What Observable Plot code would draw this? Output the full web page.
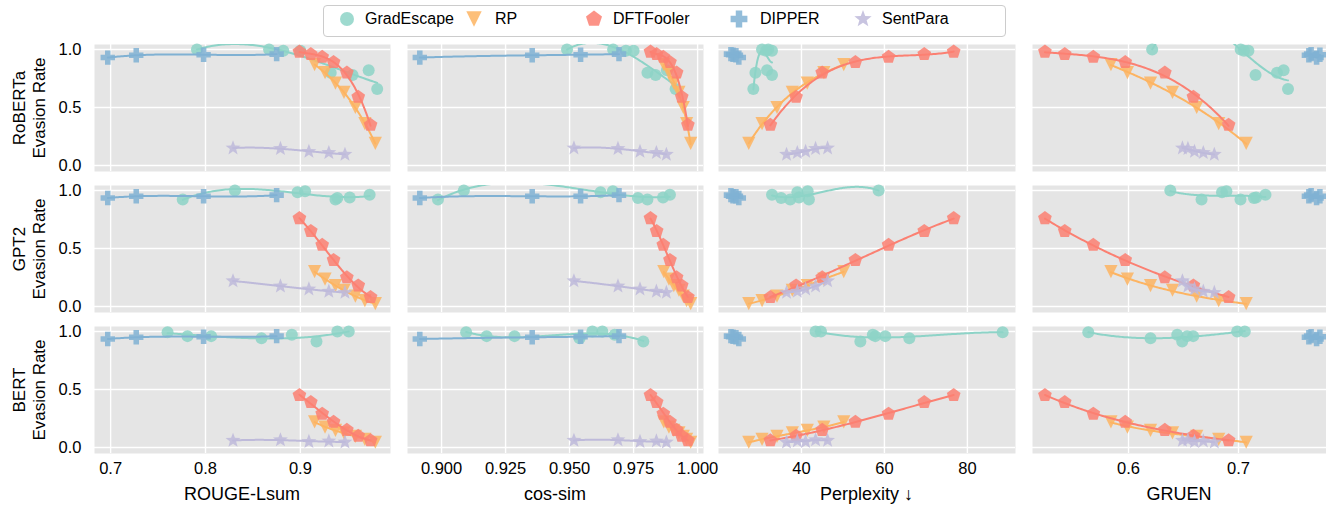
<!DOCTYPE html>
<html><head><meta charset="utf-8">
<script src="https://cdn.jsdelivr.net/npm/d3@7"></script>
<script src="https://cdn.jsdelivr.net/npm/@observablehq/plot@0.6"></script>
<style>
body{margin:0;background:#fff;font-family:"Liberation Sans",Arial,sans-serif;}
#root{position:relative;width:1326px;height:506px;overflow:hidden;background:#fff;}
.abs{position:absolute;}
.rowlab{position:absolute;width:127px;text-align:center;font-size:17px;line-height:20px;transform:rotate(-90deg);transform-origin:center center;color:#000;}
.xtitle{position:absolute;text-align:center;font-size:18px;color:#000;white-space:nowrap;}
.legtext{position:absolute;font-size:16px;color:#000;white-space:nowrap;}
</style></head><body><div id="root"></div>
<script>
// ---------- DATA ----------
const detectors = ["RoBERTa", "GPT2", "BERT"];
const metricLabels = ["ROUGE-Lsum", "cos-sim", "Perplexity ↓", "GRUEN"];
const metricTicks = [[0.7, 0.8, 0.9], [0.9, 0.925, 0.95, 0.975, 1.0], [40, 60, 80], [0.6, 0.7]];
const metricTickFormats = [".1f", ".3f", "d", ".1f"];
const yTicks = [0, 0.5, 1.0];
const attackNames = ["GradEscape", "RP", "DFTFooler", "DIPPER", "SentPara"];
const attackColors = ["#8dd3c7", "#fdb462", "#fb8072", "#80b1d3", "#bebada"];

// DFTFooler
const dftRouge = [0.899, 0.911, 0.923, 0.935, 0.949, 0.961, 0.974];
const dftCos = [0.9816, 0.984, 0.9866, 0.9892, 0.9918, 0.9938, 0.9962];
const dftPpl = [76.7, 69.6, 61.0, 53.0, 45.0, 38.7, 32.5];
const dftGruen = [0.524, 0.542, 0.568, 0.597, 0.633, 0.659, 0.691];
const dftRoBERTa = [0.98, 0.96, 0.935, 0.89, 0.80, 0.59, 0.35];
const dftGPT2 = [0.76, 0.65, 0.53, 0.40, 0.25, 0.18, 0.08];
const dftBERT = [0.45, 0.39, 0.29, 0.22, 0.15, 0.10, 0.06];

// RP
const rpRouge = [0.915, 0.926, 0.937, 0.946, 0.958, 0.968, 0.979];
const rpCos = [0.9868, 0.9888, 0.9907, 0.9927, 0.9944, 0.9957, 0.9973];
const rpPpl = [50.2, 45.4, 41.4, 37.8, 34.1, 30.5, 27.3];
const rpGruen = [0.584, 0.599, 0.62, 0.64, 0.662, 0.682, 0.707];
const rpRoBERTa = [0.87, 0.80, 0.71, 0.63, 0.50, 0.36, 0.19];
const rpGPT2 = [0.30, 0.235, 0.18, 0.14, 0.09, 0.05, 0.025];
const rpBERT = [0.22, 0.175, 0.147, 0.125, 0.095, 0.07, 0.045];

// DIPPER
const dipRouge = [0.697, 0.727, 0.798, 0.875];
const dipCos = [0.8915, 0.9354, 0.9543, 0.9693];
const dipPpl = [24.9, 24.2, 23.5, 23.0];
const dipGruen = [0.771, 0.764, 0.774, 0.766];
const dipRoBERTa = [0.93, 0.95, 0.955, 0.96];
const dipGPT2 = [0.935, 0.95, 0.95, 0.96];
const dipBERT = [0.935, 0.95, 0.955, 0.96];

// SentPara
const spRouge = [0.829, 0.879, 0.909, 0.930, 0.947];
const spCos = [0.9517, 0.9689, 0.9775, 0.9839, 0.9878];
const spPpl = [46.3, 43.4, 41.0, 39.0, 36.4];
const spGruen = [0.649, 0.654, 0.66, 0.668, 0.678];
const spRoBERTa = [0.15, 0.145, 0.12, 0.11, 0.095];
const spGPT2 = [0.22, 0.175, 0.15, 0.13, 0.12];
const spBERT = [0.06, 0.065, 0.05, 0.055, 0.045];

// GradEscape (trained per detector)
const geRougeRoBERTa = [0.791, 0.867, 0.882, 0.90, 0.932, 0.955, 0.972, 0.981];
const geCosRoBERTa = [0.949, 0.967, 0.972, 0.975, 0.9804, 0.9836, 0.988, 0.9914];
const gePplRoBERTa = [30.5, 32.0, 32.9, 31.5, 28.9, 32.9, 31.7, 28.4];
const geGruenRoBERTa = [0.6215, 0.702, 0.709, 0.705, 0.735, 0.7155, 0.741, 0.745];
const geRoBERTa = [1.0, 1.0, 0.99, 0.99, 0.80, 0.78, 0.82, 0.66];

const geRougeGPT2 = [0.776, 0.831, 0.897, 0.905, 0.937, 0.939, 0.952, 0.973];
const geCosGPT2 = [0.8986, 0.9087, 0.9621, 0.9669, 0.9804, 0.9767, 0.9865, 0.9892];
const gePplGPT2 = [41.8, 58.6, 39.0, 41.5, 37.3, 35.1, 39.4, 32.9];
const geGruenGPT2 = [0.6664, 0.638, 0.685, 0.689, 0.7018, 0.714, 0.716, 0.7245];
const geGPT2 = [0.922, 1.0, 0.985, 0.994, 0.922, 0.935, 0.94, 0.963];

const geRougeBERT = [0.76, 0.781, 0.806, 0.859, 0.891, 0.917, 0.939, 0.951];
const geCosBERT = [0.9096, 0.9176, 0.9285, 0.9539, 0.9676, 0.9788, 0.9589, 0.9628];
const gePplBERT = [88.5, 57.8, 60.2, 66.0, 57.2, 54.2, 43.4, 44.7];
const geGruenBERT = [0.5634, 0.6533, 0.6588, 0.62, 0.6443, 0.6488, 0.6988, 0.7057];
const geBERT = [0.994, 0.96, 0.96, 0.942, 0.971, 0.914, 1.0, 1.0];

// ---------- assemble ----------
const attackX = {
  GradEscape: {
    RoBERTa: [geRougeRoBERTa, geCosRoBERTa, gePplRoBERTa, geGruenRoBERTa],
    GPT2: [geRougeGPT2, geCosGPT2, gePplGPT2, geGruenGPT2],
    BERT: [geRougeBERT, geCosBERT, gePplBERT, geGruenBERT]
  },
  RP: [rpRouge, rpCos, rpPpl, rpGruen],
  DFTFooler: [dftRouge, dftCos, dftPpl, dftGruen],
  DIPPER: [dipRouge, dipCos, dipPpl, dipGruen],
  SentPara: [spRouge, spCos, spPpl, spGruen]
};
const attackY = {
  GradEscape: {RoBERTa: geRoBERTa, GPT2: geGPT2, BERT: geBERT},
  RP: {RoBERTa: rpRoBERTa, GPT2: rpGPT2, BERT: rpBERT},
  DFTFooler: {RoBERTa: dftRoBERTa, GPT2: dftGPT2, BERT: dftBERT},
  DIPPER: {RoBERTa: dipRoBERTa, GPT2: dipGPT2, BERT: dipBERT},
  SentPara: {RoBERTa: spRoBERTa, GPT2: spGPT2, BERT: spBERT}
};
function getXs(att, det, c) {
  const a = attackX[att];
  return Array.isArray(a) ? a[c] : a[det][c];
}

// ---------- symbols ----------
function rad(size) { return Math.sqrt(size / Math.PI); }
const symTriDown = {draw(ctx, size) { const a = rad(size) * 1.1; ctx.moveTo(0, a); ctx.lineTo(-a, -a); ctx.lineTo(a, -a); ctx.closePath(); }};
const symPentagon = {draw(ctx, size) { const R = rad(size) * 1.2; for (let k = 0; k < 5; k++) { const t = -Math.PI / 2 + k * 2 * Math.PI / 5; const x = R * Math.cos(t), y = R * Math.sin(t); k ? ctx.lineTo(x, y) : ctx.moveTo(x, y); } ctx.closePath(); }};
const symPlus = {draw(ctx, size) { const R = rad(size) * 1.2, w = R / 2.6; ctx.moveTo(-w, -R); ctx.lineTo(w, -R); ctx.lineTo(w, -w); ctx.lineTo(R, -w); ctx.lineTo(R, w); ctx.lineTo(w, w); ctx.lineTo(w, R); ctx.lineTo(-w, R); ctx.lineTo(-w, w); ctx.lineTo(-R, w); ctx.lineTo(-R, -w); ctx.lineTo(-w, -w); ctx.closePath(); }};
const symStar = {draw(ctx, size) { const R = rad(size) * 1.3, r = R * 0.42; for (let k = 0; k < 10; k++) { const t = -Math.PI / 2 + k * Math.PI / 5; const rr = k % 2 ? r : R; const x = rr * Math.cos(t), y = rr * Math.sin(t); k ? ctx.lineTo(x, y) : ctx.moveTo(x, y); } ctx.closePath(); }};
const symCircle = {draw(ctx, size) { const r = rad(size); ctx.moveTo(r, 0); ctx.arc(0, 0, r, 0, 2 * Math.PI); }};
const attackSymbols = [symCircle, symTriDown, symPentagon, symPlus, symStar];

// ---------- polynomial fit ----------
function polyfit(xs, ys, deg) {
  const n = xs.length; deg = Math.min(deg, n - 1);
  const mx = d3.mean(xs), sx = d3.deviation(xs) || 1;
  const t = xs.map(x => (x - mx) / sx);
  const m = deg + 1;
  const A = Array.from({length: m}, () => new Array(m + 1).fill(0));
  for (let i = 0; i < n; i++) for (let r = 0; r < m; r++) {
    for (let c = 0; c < m; c++) A[r][c] += t[i] ** (r + c);
    A[r][m] += ys[i] * t[i] ** r;
  }
  for (let col = 0; col < m; col++) {
    let piv = col;
    for (let r = col + 1; r < m; r++) if (Math.abs(A[r][col]) > Math.abs(A[piv][col])) piv = r;
    [A[col], A[piv]] = [A[piv], A[col]];
    for (let r = 0; r < m; r++) { if (r === col) continue; const f = A[r][col] / A[col][col]; for (let c = col; c <= m; c++) A[r][c] -= f * A[col][c]; }
  }
  const coef = A.map((row, i) => row[m] / row[i]);
  return x => { const tt = (x - mx) / sx; return coef.reduce((s, cf, i) => s + cf * tt ** i, 0); };
}

// ---------- layout ----------
const root = document.getElementById("root");
const colLeft = [94, 407, 718, 1032], colW = [296, 296, 297, 294];
const rowTop = [44, 185, 326], rowH = 127;
const xDomains = [[0.683, 0.995], [0.8867, 1.0023], [20, 91.6], [0.5127, 0.78]];
const yDomain = [-0.052, 1.043];

for (let r = 0; r < 3; r++) {
  for (let c = 0; c < 4; c++) {
    const det = detectors[r];
    const mL = c === 0 ? 70 : 0, mB = r === 2 ? 40 : 0;
    const marks = [
      Plot.frame({fill: "#e5e5e5", stroke: "none"}),
      Plot.gridX(metricTicks[c], {stroke: "white", strokeOpacity: 1, strokeWidth: 1.4}),
      Plot.gridY(yTicks, {stroke: "white", strokeOpacity: 1, strokeWidth: 1.4})
    ];
    attackNames.forEach((att, k) => {
      const xs = getXs(att, det, c), ys = attackY[att][det];
      const pts = xs.map((x, i) => ({x, y: ys[i]}));
      const f = polyfit(xs, ys, 3);
      const [x0, x1] = d3.extent(xs);
      const fit = d3.range(0, 101).map(i => { const x = x0 + (x1 - x0) * i / 100; return {x, y: f(x)}; });
      marks.push(Plot.line(fit, {x: "x", y: "y", stroke: attackColors[k], strokeWidth: 2, clip: true}));
      marks.push(Plot.dot(pts, {x: "x", y: "y", symbol: attackSymbols[k], r: 6, fill: attackColors[k], fillOpacity: 0.85, stroke: "none"}));
    });
    const xOpts = {domain: xDomains[c], label: null};
    const yOpts = {domain: yDomain, label: null};
    if (r === 2) marks.push(Plot.axisX(metricTicks[c], {tickSize: 0, tickPadding: 9, tickFormat: d3.format(metricTickFormats[c]), fontSize: 16.5, label: null}));
    else xOpts.axis = null;
    if (c === 0) marks.push(Plot.axisY(yTicks, {tickSize: 0, tickPadding: 13, tickFormat: d3.format(".1f"), fontSize: 16.5, label: null}));
    else yOpts.axis = null;
    const p = Plot.plot({
      width: colW[c] + mL, height: rowH + mB,
      marginLeft: mL, marginRight: 0, marginTop: 0, marginBottom: mB,
      x: xOpts, y: yOpts,
      style: {fontFamily: '"Liberation Sans", Arial, sans-serif', fontSize: "16.5px", background: "transparent", overflow: "visible", color: "#000"},
      marks
    });
    p.style.position = "absolute";
    p.style.left = (colLeft[c] - mL) + "px";
    p.style.top = rowTop[r] + "px";
    root.appendChild(p);
  }
}

// row labels
detectors.forEach((det, r) => {
  const d = document.createElement("div");
  d.className = "rowlab";
  d.innerHTML = det + "<br>Evasion Rate";
  d.style.left = (29 - 127 / 2) + "px";
  d.style.top = (rowTop[r] + rowH / 2 - 20) + "px";
  d.style.height = "40px";
  root.appendChild(d);
});

// x titles
metricLabels.forEach((lab, c) => {
  const d = document.createElement("div");
  d.className = "xtitle";
  d.textContent = lab;
  d.style.left = colLeft[c] + "px";
  d.style.width = colW[c] + "px";
  d.style.top = "484px";
  root.appendChild(d);
});

// legend
const leg = document.createElement("div");
leg.style.cssText = "position:absolute;left:323px;top:5px;width:681px;height:30px;border:1px solid #cccccc;border-radius:4px;background:#fff;";
root.appendChild(leg);
const legSvg = d3.create("svg").attr("width", 1326).attr("height", 40).style("position", "absolute").style("left", "0px").style("top", "0px");
const legMarkerX = [347, 474, 594, 739, 863];
const legTextX = [365, 495, 613, 760, 882];
attackNames.forEach((att, k) => {
  legSvg.append("path").attr("d", d3.symbol().type(attackSymbols[k]).size(Math.PI * 49)()).attr("transform", `translate(${legMarkerX[k]},19)`).attr("fill", attackColors[k]).attr("fill-opacity", 0.85);
  const t = document.createElement("div");
  t.className = "legtext";
  t.textContent = att;
  t.style.left = legTextX[k] + "px";
  t.style.top = "10px";
  root.appendChild(t);
});
root.appendChild(legSvg.node());
</script></body></html>
